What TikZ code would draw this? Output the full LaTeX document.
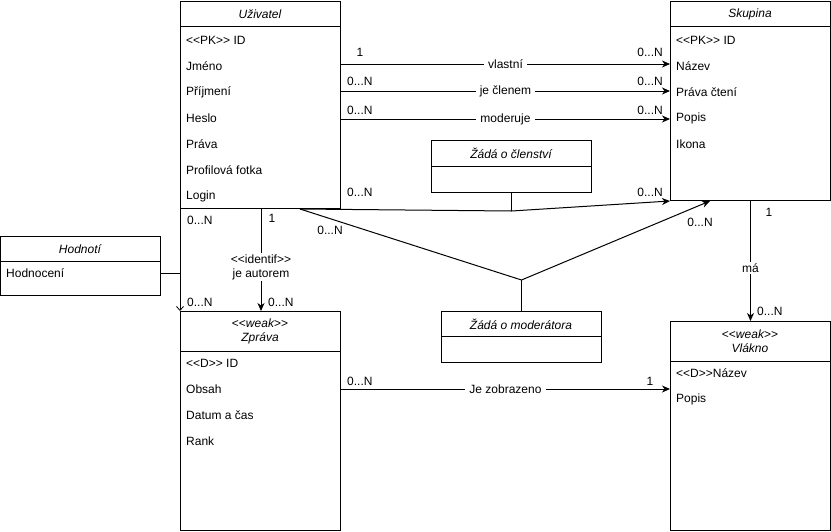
\documentclass[tikz,border=0pt]{standalone}
\usepackage{fontspec}
\setmainfont{Liberation Sans}
\usetikzlibrary{arrows.meta,calc}
\newcommand\dlt{<\kern0pt<}
\newcommand\dgt{>\kern0pt>}
\begin{document}
\begin{tikzpicture}[x=1pt,y=-1pt,
  font=\fontsize{12}{14}\selectfont,
  cls/.style={draw, line width=1pt, fill=white, inner sep=0pt, anchor=north west},
  ttl/.style={font=\fontsize{12}{14}\selectfont\itshape, inner sep=0pt, align=center},
  attr/.style={anchor=west, inner sep=0pt},
  lbl/.style={inner sep=0pt},
  onl/.style={fill=white, inner xsep=4pt, inner ysep=1.5pt, align=center},
  conn/.style={line width=1pt},
  arr/.style={conn, -{Stealth[length=8pt,width=7pt,inset=2.5pt]}},
  oarr/.style={conn, -{Straight Barb[length=4pt,width=7pt,line width=0.8pt]}}
]
\useasboundingbox (0,0) rectangle (831,531);

% ---------- classes ----------
\node[cls, minimum width=160pt, minimum height=207pt] (uz) at (180,1) {};
\draw[line width=1pt] ($(uz.north west)+(0,25)$) -- ($(uz.north east)+(0,25)$);
\node[ttl] (uzt) at (260,14) {Uživatel};
\node[attr] (uz1) at (186,40) {\dlt PK\dgt{} ID};
\node[attr] (uz2) at (186,66) {Jméno};
\node[attr] (uz3) at (186,92) {Příjmení};
\node[attr] (uz4) at (186,118) {Heslo};
\node[attr] (uz5) at (186,144) {Práva};
\node[attr] (uz6) at (186,170) {Profilová fotka};
\node[attr] (uz7) at (186,196) {Login};

\node[cls, minimum width=160pt, minimum height=199pt] (sk) at (670,1) {};
\draw[line width=1pt] ($(sk.north west)+(0,25)$) -- ($(sk.north east)+(0,25)$);
\node[ttl] (skt) at (750,14) {Skupina};
\node[attr] (sk1) at (676,40) {\dlt PK\dgt{} ID};
\node[attr] (sk2) at (676,66) {Název};
\node[attr] (sk3) at (676,92) {Práva čtení};
\node[attr] (sk4) at (676,118) {Popis};
\node[attr] (sk5) at (676,144) {Ikona};

\node[cls, minimum width=160pt, minimum height=59pt] (ho) at (0,236) {};
\draw[line width=1pt] ($(ho.north west)+(0,25)$) -- ($(ho.north east)+(0,25)$);
\node[ttl] (hot) at (80,249) {Hodnotí};
\node[attr] (ho1) at (6,273) {Hodnocení};

\node[cls, minimum width=160pt, minimum height=219pt] (zp) at (180,311) {};
\draw[line width=1pt] ($(zp.north west)+(0,40)$) -- ($(zp.north east)+(0,40)$);
\node[ttl] (zpt) at (260,331) {{\upshape\dlt}weak{\upshape\dgt}\\Zpráva};
\node[attr] (zp1) at (186,363) {\dlt D\dgt{} ID};
\node[attr] (zp2) at (186,389) {Obsah};
\node[attr] (zp3) at (186,415) {Datum a čas};
\node[attr] (zp4) at (186,441) {Rank};

\node[cls, minimum width=160pt, minimum height=209pt] (vl) at (670,321) {};
\draw[line width=1pt] ($(vl.north west)+(0,40)$) -- ($(vl.north east)+(0,40)$);
\node[ttl] (vlt) at (750,341) {{\upshape\dlt}weak{\upshape\dgt}\\Vlákno};
\node[attr] (vl1) at (676,373) {\dlt D\dgt Název};
\node[attr] (vl2) at (676,399) {Popis};

\node[cls, minimum width=160pt, minimum height=52pt] (zc) at (431,140) {};
\draw[line width=1pt] ($(zc.north west)+(0,26)$) -- ($(zc.north east)+(0,26)$);
\node[ttl] (zct) at (511,153) {Žádá o členství};

\node[cls, minimum width=160pt, minimum height=51pt] (zm) at (441,311) {};
\draw[line width=1pt] ($(zm.north west)+(0,25)$) -- ($(zm.north east)+(0,25)$);
\node[ttl] (zmt) at (521,324) {Žádá o moderátora};

% ---------- connector points ----------
\coordinate (cS) at ($(uz.south west)+(120,0)$);   % start of request lines
\coordinate (cM) at ($(zm.north)+(0,-31)$);          % moderator junction
\coordinate (cC) at ($(zc.south)+(0,18)$);           % membership junction

% ---------- connectors ----------
\draw[arr] ($(uz.north east)+(0,63)$) -- node[onl]{vlastní} ($(sk.north west)+(0,63)$);
\node[lbl] (l1a) at (360,52) {1};
\node[lbl, anchor=east] (l1b) at (663,52) {0...N};

\draw[arr] ($(uz.north east)+(0,90)$) -- node[onl]{je členem} ($(sk.north west)+(0,90)$);
\node[lbl, anchor=west] (l2a) at (347,81) {0...N};
\node[lbl, anchor=east] (l2b) at (663,81) {0...N};

\draw[arr] ($(uz.north east)+(0,118)$) -- node[onl]{moderuje} ($(sk.north west)+(0,118)$);
\node[lbl, anchor=west] (l3a) at (347,110) {0...N};
\node[lbl, anchor=east] (l3b) at (663,110) {0...N};

% membership request
\draw[arr] (cS) -- (cC) -- (sk.south west);
\draw[conn] (zc.south) -- (cC);
\node[lbl, anchor=west] (l4a) at (347,192) {0...N};
\node[lbl, anchor=east] (l4b) at (663,192) {0...N};

% moderator request
\draw[arr] (cS) -- (cM) -- ($(sk.south west)+(40,0)$);
\draw[conn] (zm.north) -- (cM);
\node[lbl] (l5a) at (330,230) {0...N};
\node[lbl] (l5b) at (700,222) {0...N};

% je autorem
\draw[arr] ($(uz.south west)+(81,0)$) -- node[onl, pos=0.57]{\dlt identif\dgt\\je autorem} ($(zp.north west)+(81,0)$);
\node[lbl] (l6a) at (272,218) {1};
\node[lbl, anchor=west] (l6b) at (268,302) {0...N};

% Hodnotí
\draw[oarr] (uz.south west) -- (zp.north west);
\draw[conn] (ho.east |- ho1) -- ($(uz.south west)!(ho1)!(zp.north west)$);
\node[lbl, anchor=west] (l7a) at (187,220) {0...N};
\node[lbl, anchor=west] (l7b) at (187,302) {0...N};

% má
\draw[arr] (sk.south) -- node[onl, pos=0.56]{má} (vl.north);
\node[lbl] (l8a) at (769,212) {1};
\node[lbl, anchor=west] (l8b) at (757,311) {0...N};

% Je zobrazeno
\draw[arr] ($(zp.north east)+(0,78)$) -- node[onl]{Je zobrazeno} ($(vl.north west)+(0,68)$);
\node[lbl, anchor=west] (l9a) at (347,381) {0...N};
\node[lbl] (l9b) at (650,381) {1};
\end{tikzpicture}
\end{document}
